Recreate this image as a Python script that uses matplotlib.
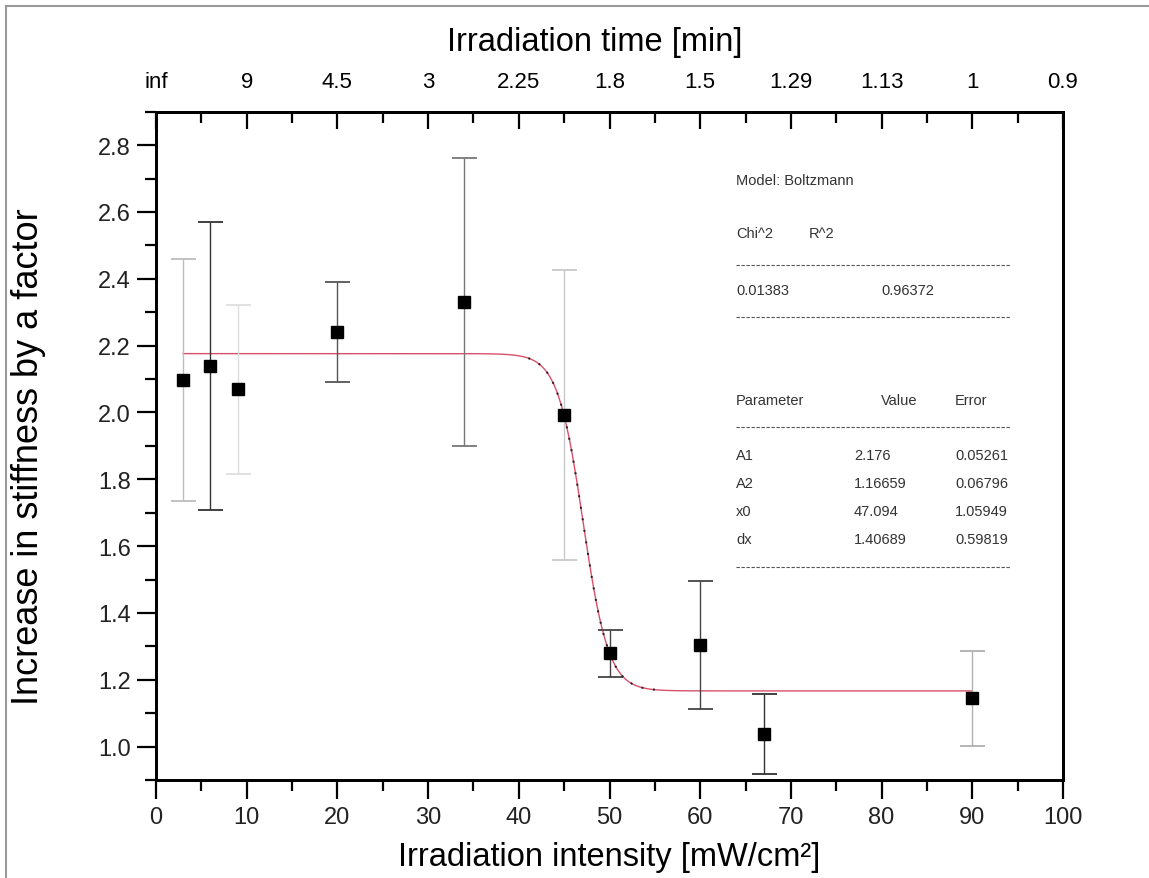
"""
Stiffness increase vs irradiation intensity, Boltzmann fit, with the
irradiation time on the top axis.
"""
import numpy as np
import matplotlib
matplotlib.use("Agg")
import matplotlib.pyplot as plt
from matplotlib.ticker import MultipleLocator
from matplotlib.lines import Line2D

plt.rcParams["font.family"] = ["Liberation Sans", "DejaVu Sans"]

# measured points (intensity in mW/cm^2)
intensity = [3, 6, 9, 20, 34, 45, 50, 60, 67, 90]
stiffness = [2.097, 2.139, 2.069, 2.240, 2.330, 1.992, 1.279, 1.303, 1.038, 1.145]
stiff_err = [0.362, 0.430, 0.252, 0.150, 0.430, 0.435, 0.070, 0.192, 0.120, 0.142]

# top axis: irradiation time matching the bottom ticks
time_ticks = [0, 10, 20, 30, 40, 50, 60, 70, 80, 90, 100]
time_labels = ["inf", "9", "4.5", "3", "2.25", "1.8", "1.5", "1.29", "1.13", "1", "0.9"]

# Boltzmann fit parameters
fit_names = ["A1", "A2", "x0", "dx"]
fit_values = [2.176, 1.16659, 47.094, 1.40689]
fit_value_txt = ["2.176", "1.16659", "47.094", "1.40689"]
fit_error_txt = ["0.05261", "0.06796", "1.05949", "0.59819"]
chi2_txt, r2_txt = "0.01383", "0.96372"

# error bar shades as they appear in the figure
bar_colors = ["#bdbdbd", "#333333", "#dedede", "#555555", "#777777",
              "#c8c8c8", "#444444", "#444444", "#333333", "#b0b0b0"]

W, H = 1149, 879
fig = plt.figure(figsize=(W / 100, H / 100), dpi=100)
L, R, T, B = 156, 1063, 112.7, 781
ax = fig.add_axes([L / W, 1 - B / H, (R - L) / W, (B - T) / H])


def axpt(px, py):
    # pixel position -> axes fraction
    return (px - L) / (R - L), (B - py) / (B - T)


# fit curve
A1, A2, x0, dx = fit_values
xf = np.linspace(min(intensity), max(intensity), 600)
yf = A2 + (A1 - A2) / (1 + np.exp((xf - x0) / dx))
ax.plot(xf, yf, color="#d9506a", lw=1.0, zorder=2)
mid = (xf > 41) & (xf < 56)
ax.plot(xf[mid], yf[mid], color="#202020", lw=1.4, ls=(0, (1, 5)), zorder=3)

for xi, yi, ei, c in zip(intensity, stiffness, stiff_err, bar_colors):
    ax.errorbar(xi, yi, yerr=ei, fmt="none", ecolor=c, elinewidth=1.0,
                capsize=9, capthick=1.3, zorder=2)
ax.plot(intensity, stiffness, "s", color="black", ms=9, zorder=4)

ax.set_xlim(0, 100)
ax.set_ylim(0.9, 2.9)
ax.xaxis.set_major_locator(MultipleLocator(10))
ax.xaxis.set_minor_locator(MultipleLocator(5))
ax.yaxis.set_major_locator(MultipleLocator(0.2))
ax.yaxis.set_minor_locator(MultipleLocator(0.1))
ax.yaxis.set_major_formatter(plt.FuncFormatter(lambda v, p: f"{v:.1f}"))
ax.tick_params(which="both", direction="out", width=1.6, colors="black",
               labelcolor="#222222", labelsize=17, top=False, right=False)
ax.tick_params(which="major", length=14)
ax.tick_params(which="minor", length=8)
ax.tick_params(axis="x", pad=5)
ax.tick_params(axis="y", pad=4)
for s in ax.spines.values():
    s.set_linewidth(2.0)

ax.set_xlabel("Irradiation intensity [mW/cm²]", fontsize=23.5)
ax.xaxis.set_label_coords(0.5, -0.092)
ax.set_ylabel("Increase in stiffness by a factor", fontsize=26)
ax.yaxis.set_label_coords(-0.121, 0.485)

# top axis
ax2 = ax.twiny()
ax2.set_xlim(ax.get_xlim())
ax2.set_xticks(time_ticks)
ax2.set_xticklabels(time_labels)
ax2.xaxis.set_minor_locator(MultipleLocator(5))
ax2.tick_params(which="both", direction="in", width=1.6, labelsize=16, pad=14)
ax2.tick_params(which="major", length=12)
ax2.tick_params(which="minor", length=8)
ax2.set_xlabel("Irradiation time [min]", fontsize=23.5)
ax2.xaxis.set_label_coords(0.484, 1.092)
for s in ax2.spines.values():
    s.set_linewidth(2.0)

# fit report
tc = "#333333"
fs = 10.5
def put(px, py, s):
    x, y = axpt(px, py)
    ax.text(x, y, s, transform=ax.transAxes, fontsize=fs, color=tc,
            ha="left", va="center")

def dash(py):
    x1, y = axpt(736, py)
    x2, _ = axpt(1010, py)
    ax.add_line(Line2D([x1, x2], [y, y], transform=ax.transAxes,
                       color="#555555", lw=0.8, ls=(0, (3, 1.5))))

put(736, 181, "Model: Boltzmann")
put(736, 234, "Chi^2")
put(809, 234, "R^2")
dash(266)
put(736, 291, chi2_txt)
put(881, 291, r2_txt)
dash(318)
put(736, 401, "Parameter")
put(881, 401, "Value")
put(955, 401, "Error")
dash(428)
for i, (n, v, e) in enumerate(zip(fit_names, fit_value_txt, fit_error_txt)):
    py = 456 + i * 28
    put(736, py, n)
    put(854, py, v)
    put(955, py, e)
dash(568)

# thin gray frame of the original screenshot
fig.add_artist(Line2D([6 / W, 6 / W], [0, 1 - 7 / H], transform=fig.transFigure,
                      color="#999999", lw=1.5))
fig.add_artist(Line2D([6 / W, 1], [1 - 7 / H, 1 - 7 / H], transform=fig.transFigure,
                      color="#999999", lw=1.5))

fig.savefig("out.png", dpi=100)
